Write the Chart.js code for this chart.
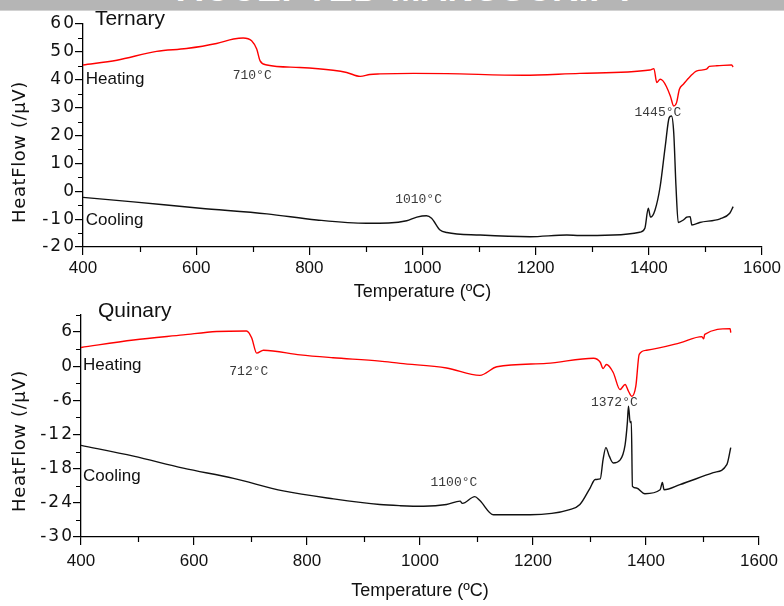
<!DOCTYPE html>
<html lang="en">
<head>
<meta charset="UTF-8">
<title>DTA heat flow - Ternary / Quinary</title>
<style>
  body { margin: 0; background: #fff; width: 784px; height: 606px; position: relative; overflow: hidden;
         font-family: "Liberation Sans", Arial, sans-serif; }
  #banner { position: absolute; left: 0; top: 0; width: 784px; height: 10px; background: #b5b5b5;
            border-bottom: 1px solid #d2d2d2; overflow: hidden; }
  #banner span { position: absolute; left: 177px; top: -29px; font-size: 36px; line-height: 36px; font-weight: bold;
                 color: #fff; letter-spacing: 0.6px; white-space: nowrap; }
  canvas { position: absolute; left: 0; }
  #ternaryChart { top: 0; }
  #quinaryChart { top: 300px; }
</style>
</head>
<body>
<div id="banner"><span>ACCEPTED MANUSCRIPT</span></div>
<canvas id="ternaryChart" width="784" height="304"></canvas>
<canvas id="quinaryChart" width="784" height="306"></canvas>

<script src="https://cdn.jsdelivr.net/npm/chart.js"></script>
<script>
// tick labels
const xTicks = [400, 600, 800, 1000, 1200, 1400, 1600];
const ternaryYTicks = [-20, -10, 0, 10, 20, 30, 40, 50, 60];
const quinaryYTicks = [-30, -24, -18, -12, -6, 0, 6];

// Ternary, heating (red)
const ternaryHeatT = [400, 460, 530, 583, 636, 666, 683, 698, 707, 713, 725, 783, 842, 866, 890, 907, 925, 984,
  1043, 1178, 1278, 1402, 1409, 1414, 1420, 1425, 1431, 1438, 1444, 1449, 1454, 1461, 1473, 1485, 1502, 1507,
  1520, 1546, 1549];
const ternaryHeatV = [45.3, 47.0, 50.2, 51.2, 53.0, 54.6, 55.0, 54.0, 51.0, 46.8, 45.3, 44.4, 43.4, 42.6, 41.2,
  41.9, 42.1, 42.3, 42.2, 41.6, 42.3, 43.5, 44.0, 39.0, 40.2, 39.6, 37.6, 34.2, 30.6, 31.8, 36.6, 38.4, 41.2,
  43.2, 43.8, 44.8, 45.0, 45.3, 44.6];

// Ternary, cooling (black)
const ternaryCoolT = [400, 489, 607, 725, 813, 901, 940, 972, 990, 1007, 1016, 1031, 1043, 1102, 1190, 1255,
  1278, 1337, 1384, 1393, 1399, 1403, 1411, 1420, 1429, 1436, 1440, 1444, 1448, 1452, 1461, 1467, 1473, 1476,
  1490, 1526, 1543, 1549];
const ternaryCoolV = [-2.2, -3.8, -6.1, -8.1, -10.3, -11.5, -11.4, -10.6, -9.3, -8.8, -9.7, -13.9, -14.8, -15.7,
  -16.3, -15.7, -15.9, -15.7, -14.7, -13.3, -6.1, -9.3, -6.7, 1.7, 16.1, 26.4, 27.0, 21.0, 1.7, -11.2, -10.3,
  -9.3, -9.1, -12.1, -11.2, -9.9, -7.9, -5.5];

// Quinary, heating (red)
const quinaryHeatT = [400, 493, 581, 640, 693, 702, 711, 723, 788, 846, 929, 965, 1047, 1106, 1136, 1224, 1307,
  1319, 1324, 1330, 1342, 1354, 1363, 1369, 1375, 1382, 1388, 1401, 1460, 1499, 1502, 1504, 1549, 1550];
const quinaryHeatV = [3.3, 4.6, 5.5, 6.1, 6.2, 5.0, 2.3, 2.8, 2.0, 1.5, 0.9, 0.5, -0.3, -1.6, -0.1, 0.5, 1.4,
  0.7, -0.4, 0.3, -1.1, -4.1, -3.2, -4.4, -5.3, -3.5, 2.1, 2.8, 4.1, 5.2, 4.8, 5.6, 6.6, 5.9];

// Quinary, cooling (black)
const quinaryCoolT = [400, 493, 581, 670, 758, 847, 929, 965, 1006, 1047, 1071, 1075, 1097, 1106, 1130, 1195,
  1265, 1283, 1301, 1310, 1319, 1324, 1329, 1335, 1342, 1354, 1363, 1367, 1369, 1372, 1374, 1376, 1383, 1398,
  1425, 1429, 1432, 1460, 1519, 1543, 1550];
const quinaryCoolV = [-13.9, -15.8, -17.9, -19.7, -21.9, -23.3, -24.3, -24.5, -24.6, -24.3, -23.7, -24.1, -22.9,
  -23.6, -26.1, -26.1, -25.2, -24.3, -21.4, -19.9, -19.8, -16.4, -14.3, -15.8, -17.0, -16.5, -13.8, -9.9, -7.0,
  -9.9, -9.7, -21.1, -21.4, -22.4, -21.7, -20.4, -21.7, -20.8, -18.7, -17.3, -14.3];

const toPoints = (t, v) => t.map((x, i) => ({ x: x, y: v[i] }));

const sans = '"Liberation Sans", Arial, sans-serif';
const wide = '"DejaVu Sans", Verdana, sans-serif';
const monoFont = '13px "Liberation Mono", "DejaVu Sans Mono", monospace';
const textFont = '17px ' + sans;
const titleFont = '21px ' + sans;

// y axis layers (z <= 0) are drawn before the lines, the x axis (z 1) after them,
// so the wide y labels of the original get a little letter spacing only
const extras = {
  id: 'extras',
  beforeDraw(chart) {
    chart.ctx.letterSpacing = '2px';
  },
  beforeDatasetsDraw(chart) {
    chart.ctx.letterSpacing = '0px';
  },
  afterDraw(chart, args, o) {
    const { ctx, scales: { x, y } } = chart;
    ctx.save();
    ctx.letterSpacing = '0px';
    ctx.strokeStyle = '#000';
    ctx.lineWidth = 1.2;
    ctx.beginPath();
    for (let v = x.min; v <= x.max + 1e-6; v += o.xMinor) {
      if (xTicks.includes(v)) continue;
      const px = Math.round(x.getPixelForValue(v)) + 0.5;
      ctx.moveTo(px, y.bottom);
      ctx.lineTo(px, y.bottom + 5);
    }
    for (let v = y.min; v <= y.max + 1e-6; v += o.yMinor) {
      if (o.yTicks.includes(v)) continue;
      const py = Math.round(y.getPixelForValue(v)) + 0.5;
      ctx.moveTo(x.left - 5, py);
      ctx.lineTo(x.left, py);
    }
    ctx.stroke();

    ctx.textBaseline = 'middle';
    for (const l of o.labels) {
      ctx.font = l.font;
      ctx.fillStyle = l.color || '#111';
      ctx.textAlign = l.align || 'left';
      ctx.fillText(l.text, x.getPixelForValue(l.x), y.getPixelForValue(l.y));
    }

    ctx.translate(o.yTitle.x, o.yTitle.y);
    ctx.rotate(-Math.PI / 2);
    ctx.font = '18px ' + wide;
    ctx.letterSpacing = '0.6px';
    ctx.fillStyle = '#111';
    ctx.textAlign = 'center';
    ctx.fillText('HeatFlow (/µV)', 0, 0);
    ctx.restore();
  }
};

function makeChart(id, heat, cool, yTicks, yMin, yMax, box, extraOpts) {
  return new Chart(document.getElementById(id), {
    type: 'line',
    data: {
      datasets: [
        { label: 'Heating', data: heat, borderColor: '#ff0000' },
        { label: 'Cooling', data: cool, borderColor: '#111111' }
      ]
    },
    options: {
      responsive: false,
      animation: false,
      layout: { padding: { top: box.top, right: box.right, left: 0, bottom: 0 } },
      elements: {
        point: { radius: 0 },
        line: { borderWidth: 1.4, cubicInterpolationMode: 'monotone' }
      },
      plugins: { legend: { display: false }, tooltip: { enabled: false }, extras: extraOpts },
      scales: {
        x: {
          type: 'linear', min: 400, max: 1600,
          afterBuildTicks: s => { s.ticks = xTicks.map(v => ({ value: v })); },
          afterFit: s => { s.height = box.xHeight; },
          ticks: { z: 1, font: { family: sans, size: 17 }, color: '#111', padding: box.xPad, maxRotation: 0,
                   callback: v => String(v) },
          grid: { z: 1, drawOnChartArea: false, tickLength: 8, color: '#000', lineWidth: 1.2 },
          border: { z: 1, color: '#000', width: 1.3 },
          title: { display: true, text: 'Temperature (ºC)', color: '#111',
                   font: { family: sans, size: 18 },
                   padding: { top: 0, bottom: box.titlePad } }
        },
        y: {
          min: yMin, max: yMax,
          afterBuildTicks: s => { s.ticks = yTicks.map(v => ({ value: v })); },
          afterFit: s => { s.width = box.left; },
          ticks: { font: { family: wide, size: 17 }, color: '#111', padding: -1, callback: v => String(v) },
          grid: { drawOnChartArea: false, tickLength: 8, color: '#000', lineWidth: 1.2 },
          border: { color: '#000', width: 1.3 }
        }
      }
    },
    plugins: [extras]
  });
}

makeChart('ternaryChart',
  toPoints(ternaryHeatT, ternaryHeatV), toPoints(ternaryCoolT, ternaryCoolV),
  ternaryYTicks, -20, 60,
  { top: 24, right: 22, left: 83, xHeight: 57, xPad: 3, titlePad: 1 },
  {
    xMinor: 100, yMinor: 5, yTicks: ternaryYTicks,
    yTitle: { x: 20, y: 152 },
    labels: [
      { text: 'Ternary', x: 421, y: 61.8, font: titleFont },
      { text: 'Heating', x: 405, y: 40.2, font: textFont },
      { text: 'Cooling', x: 405, y: -10.3, font: textFont },
      { text: '710°C', x: 699, y: 41.6, font: monoFont, color: '#3a3a3a', align: 'center' },
      { text: '1445°C', x: 1416, y: 28.3, font: monoFont, color: '#3a3a3a', align: 'center' },
      { text: '1010°C', x: 993, y: -3.1, font: monoFont, color: '#3a3a3a', align: 'center' }
    ]
  });

makeChart('quinaryChart',
  toPoints(quinaryHeatT, quinaryHeatV), toPoints(quinaryCoolT, quinaryCoolV),
  quinaryYTicks, -30, 9,
  { top: 15, right: 25, left: 81, xHeight: 69, xPad: 6, titlePad: 4 },
  {
    xMinor: 100, yMinor: 3, yTicks: quinaryYTicks,
    yTitle: { x: 20, y: 141 },
    labels: [
      { text: 'Quinary', x: 430, y: 9.7, font: titleFont },
      { text: 'Heating', x: 403.5, y: 0.2, font: textFont },
      { text: 'Cooling', x: 403.5, y: -19.4, font: textFont },
      { text: '712°C', x: 697, y: -0.9, font: monoFont, color: '#3a3a3a', align: 'center' },
      { text: '1100°C', x: 1060, y: -20.4, font: monoFont, color: '#3a3a3a', align: 'center' },
      { text: '1372°C', x: 1344, y: -6.4, font: monoFont, color: '#3a3a3a', align: 'center' }
    ]
  });
</script>
</body>
</html>
